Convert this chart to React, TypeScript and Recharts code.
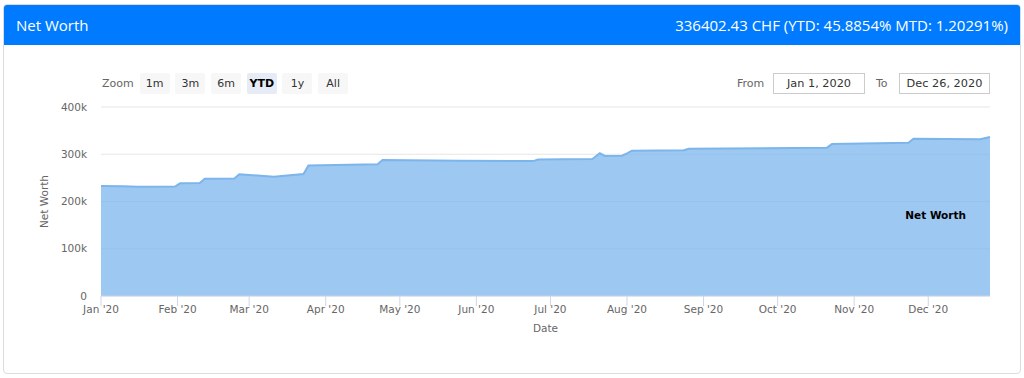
import { AreaChart, Area, XAxis, YAxis, CartesianGrid, ReferenceDot } from 'recharts';

// daily net worth snapshots (CHF)
const dates = [
  '2020-01-01', '2020-01-10', '2020-01-16', '2020-01-31', '2020-02-02', '2020-02-10',
  '2020-02-12', '2020-02-24', '2020-02-26', '2020-03-11', '2020-03-23', '2020-03-25',
  '2020-04-22', '2020-04-24', '2020-05-25', '2020-06-24', '2020-06-26', '2020-07-18',
  '2020-07-21', '2020-07-23', '2020-07-30', '2020-08-01', '2020-08-03', '2020-08-24',
  '2020-08-26', '2020-10-21', '2020-10-23', '2020-11-23', '2020-11-25', '2020-12-22',
  '2020-12-26',
];
const netWorth = [
  233000, 232500, 231000, 231500, 238500, 239000,
  248000, 248500, 257500, 252500, 258000, 276000,
  279000, 288000, 286000, 285500, 289000, 290000,
  302000, 296500, 297000, 302000, 307500, 308500,
  311500, 314000, 321500, 324500, 333000, 332000,
  336402,
];

const monthTicks = [
  '2020-01-01', '2020-02-01', '2020-03-01', '2020-04-01', '2020-05-01', '2020-06-01',
  '2020-07-01', '2020-08-01', '2020-09-01', '2020-10-01', '2020-11-01', '2020-12-01',
];
const monthLabels = [
  "Jan '20", "Feb '20", "Mar '20", "Apr '20", "May '20", "Jun '20",
  "Jul '20", "Aug '20", "Sep '20", "Oct '20", "Nov '20", "Dec '20",
];
const yTicks = [0, 100000, 200000, 300000, 400000];
const zoomButtons = ['1m', '3m', '6m', 'YTD', '1y', 'All'];
const selectedZoom = 'YTD';

const toTs = (d: string) => Date.parse(d + 'T00:00:00Z');
const data = dates.map((d, i) => ({ t: toTs(d), value: netWorth[i] }));
const tickTs = monthTicks.map(toTs);

const axisFont = '"DejaVu Sans", sans-serif';

export default function App() {
  return (
    <div
      style={{
        position: 'absolute',
        left: 0,
        top: 0,
        width: 1024,
        height: 378,
        background: '#fff',
        fontFamily: axisFont,
      }}
    >
      {/* card */}
      <div
        style={{
          position: 'absolute',
          left: 3,
          top: 4,
          width: 1016,
          height: 368,
          border: '1px solid #dcdcdc',
          borderRadius: 4,
          overflow: 'hidden',
        }}
      >
        <div
          style={{
            height: 40,
            background: '#007bff',
            color: '#fff',
            fontFamily: '"Open Sans", sans-serif',
            fontSize: 15,
            display: 'flex',
            alignItems: 'center',
            justifyContent: 'space-between',
            padding: '0 12px 0 12px',
          }}
        >
          <span>Net Worth</span>
          <span>336402.43 CHF (YTD: 45.8854% MTD: 1.20291%)</span>
        </div>
      </div>

      <div style={{ position: 'absolute', left: 0, top: 0 }}>
        <AreaChart
          width={1024}
          height={378}
          data={data}
          margin={{ top: 107, right: 34, bottom: 0, left: 0 }}
        >
          <CartesianGrid vertical={false} stroke="#e6e6e6" />
          <XAxis
            dataKey="t"
            type="number"
            domain={[toTs('2020-01-01'), toTs('2020-12-26')]}
            ticks={tickTs}
            tickFormatter={(v: number) => monthLabels[tickTs.indexOf(v)] ?? ''}
            height={82}
            stroke="#ccd6eb"
            tickSize={10}
            tickMargin={0}
            tick={{ fill: '#666', fontSize: 10.5, fontFamily: axisFont }}
            interval={0}
            label={{
              value: 'Date',
              position: 'insideBottom',
              offset: 46,
              fill: '#666',
              fontSize: 10.5,
              fontFamily: axisFont,
            }}
          />
          <YAxis
            type="number"
            domain={[0, 400000]}
            ticks={yTicks}
            width={101}
            axisLine={false}
            tickLine={false}
            tickSize={0}
            tickMargin={14}
            tickFormatter={(v: number) => (v === 0 ? '0' : `${v / 1000}k`)}
            tick={{ fill: '#666', fontSize: 10.5, fontFamily: axisFont }}
            label={({ viewBox }: any) => {
              const cy = viewBox.y + viewBox.height / 2;
              return (
                <text
                  x={44}
                  y={cy}
                  transform={`rotate(-90 44 ${cy})`}
                  textAnchor="middle"
                  dominantBaseline="central"
                  fill="#666"
                  fontSize={10.5}
                  fontFamily={axisFont}
                >
                  Net Worth
                </text>
              );
            }}
          />
          <Area
            type="linear"
            dataKey="value"
            stroke="#7cb5ec"
            strokeWidth={2}
            fill="#7cb5ec"
            fillOpacity={0.75}
            isAnimationActive={false}
            dot={false}
            activeDot={false}
          />
          <ReferenceDot
            x={toTs('2020-12-04')}
            y={171000}
            r={0}
            fill="none"
            stroke="none"
            label={{
              value: 'Net Worth',
              position: 'center',
              fill: '#000',
              fontSize: 10.5,
              fontWeight: 'bold',
              fontFamily: axisFont,
            }}
          />
        </AreaChart>
      </div>

      {/* range selector */}
      <div
        style={{
          position: 'absolute',
          left: 102,
          top: 73,
          height: 21,
          display: 'flex',
          alignItems: 'center',
          fontSize: 11,
        }}
      >
        <span style={{ color: '#666', marginRight: 6 }}>Zoom</span>
        {zoomButtons.map((b) => (
          <div
            key={b}
            style={{
              width: 30,
              height: 21,
              marginRight: 5.7,
              borderRadius: 2,
              background: b === selectedZoom ? '#e6ebf5' : '#f7f7f7',
              color: b === selectedZoom ? '#000' : '#333',
              fontWeight: b === selectedZoom ? 'bold' : 'normal',
              display: 'flex',
              alignItems: 'center',
              justifyContent: 'center',
            }}
          >
            {b}
          </div>
        ))}
      </div>

      <div
        style={{
          position: 'absolute',
          left: 737,
          top: 73,
          height: 21,
          display: 'flex',
          alignItems: 'center',
          fontSize: 11,
        }}
      >
        <span style={{ color: '#666', width: 36 }}>From</span>
        <div
          style={{
            width: 90,
            height: 19,
            border: '1px solid #ccc',
            color: '#333',
            fontSize: 11.3,
            display: 'flex',
            alignItems: 'center',
            justifyContent: 'center',
          }}
        >
          Jan 1, 2020
        </div>
        <span style={{ color: '#666', marginLeft: 11, width: 23 }}>To</span>
        <div
          style={{
            width: 89,
            height: 19,
            border: '1px solid #ccc',
            color: '#333',
            fontSize: 11.3,
            display: 'flex',
            alignItems: 'center',
            justifyContent: 'center',
          }}
        >
          Dec 26, 2020
        </div>
      </div>
    </div>
  );
}
